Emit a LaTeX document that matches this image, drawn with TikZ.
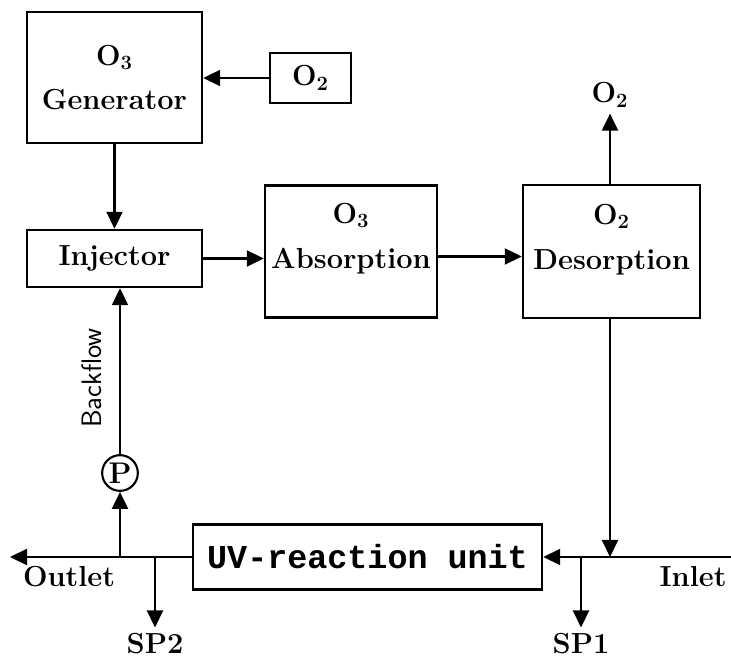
\documentclass[tikz,border=0pt]{standalone}
\usepackage{fontspec}
\setmonofont{Liberation Mono}
\usetikzlibrary{arrows.meta}
\tikzset{
blk/.style={draw,line width=1.4pt,align=center,font=\fontsize{16.5}{25.5}\selectfont\bfseries},
arr/.style={line width=1.2pt,-{Triangle[length=3.4mm,width=3.2mm]}},
lbl/.style={font=\fontsize{16.5}{18}\selectfont\bfseries}
}
\begin{document}
\begin{tikzpicture}[scale=1.0]
\useasboundingbox (0,0) rectangle (14.62,13.2);
\node[blk,minimum width=3.5cm,minimum height=2.62cm] (gen) at (2.29,11.65) {O\textsubscript{3}\\Generator};
\node[blk,minimum width=1.62cm,minimum height=1.0cm] (osrc) at (6.21,11.64) {O\textsubscript{2}};
\node[blk,minimum width=3.5cm,minimum height=1.14cm] (inj) at (2.29,8.03) {Injector};
\node[blk,minimum width=3.44cm,minimum height=2.64cm,text depth=0.64cm] (abs) at (7.02,8.17) {O\textsubscript{3}\\Absorption};
\node[blk,minimum width=3.54cm,minimum height=2.66cm,text depth=0.6cm] (des) at (12.23,8.17) {O\textsubscript{2}\\Desorption};
\node[blk,minimum width=6.98cm,minimum height=1.3cm,font=\fontsize{19}{22}\selectfont\ttfamily\bfseries] (uv) at (7.35,2.06) {UV-reaction unit};
\node[draw,circle,line width=1.2pt,inner sep=1pt,minimum size=0.7cm,font=\fontsize{17}{19}\selectfont\bfseries] (pump) at (2.4,3.74) {P};
\node[lbl] (oout) at (12.2,11.3) {O\textsubscript{2}};
\node[lbl] (outlet) at (1.38,1.66) {Outlet};
\node[lbl] (inlet) at (13.86,1.66) {Inlet};
\node[lbl] (sp1) at (11.62,0.32) {SP1};
\node[lbl] (sp2) at (3.1,0.32) {SP2};
\node[rotate=90,font=\fontsize{16}{18}\selectfont\sffamily] (back) at (1.84,5.64) {Backflow};
\coordinate (oend) at (0.2,2.06);
\coordinate (iend) at (14.62,2.06);
\coordinate (pj) at (2.4,2.06);
\coordinate (s2j) at (3.1,2.06);
\coordinate (s1j) at (11.62,2.06);
\draw[arr] (osrc.west) -- (osrc.west -| gen.east);
\draw[arr] (gen) -- (inj);
\draw[arr] (inj.east) -- (inj.east -| abs.west);
\draw[arr] ([yshift=-0.1cm]abs.east) -- ([yshift=-0.1cm]des.west);
\draw[arr] (des.north -| oout) -- (oout);
\draw[arr] (des.south -| oout) -- (oout |- uv.east);
\draw[arr] (iend) -- (uv.east);
\draw[arr] (uv.west) -- (oend);
\draw[arr] (s1j) -- (sp1);
\draw[arr] (s2j) -- (sp2);
\draw[arr] (pj) -- (pump);
\draw[arr] (pump) -- (pump |- inj.south);
\end{tikzpicture}
\end{document}
